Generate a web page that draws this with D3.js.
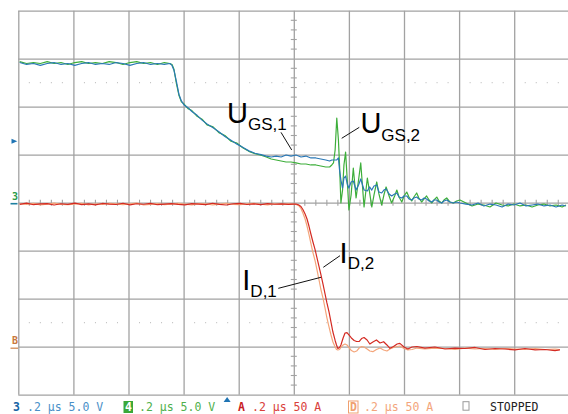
<!DOCTYPE html>
<html><head><meta charset="utf-8">
<script src="https://cdn.jsdelivr.net/npm/d3@7"></script>
<style>body{margin:0;background:#fff}svg{display:block}</style>
</head><body><svg id="c" width="568" height="414"></svg>
<script>
// ---- data (time in µs, voltages in V, currents in A) ----
const tVolt = [
-0.995,-0.97,-0.945,-0.92,-0.895,-0.87,-0.845,-0.82,-0.795,-0.77,-0.745,-0.72,-0.695,-0.67,-0.645,-0.62,-0.595,-0.57,-0.545,-0.52,-0.495,-0.47,-0.45,
-0.442,-0.435,-0.426,-0.417,-0.408,-0.399,-0.384,-0.370,-0.351,-0.333,-0.315,-0.293,-0.272,-0.250,-0.228,-0.206,-0.184,-0.163,-0.141,-0.119,
-0.10,-0.082,-0.064,-0.046,-0.028,-0.01,0.008,0.026,0.044,0.062,0.080,0.098,0.116,0.130,0.138,
0.144,0.150,0.156,0.162,0.166,0.171,0.177,0.182,0.188,0.194,0.200,0.208,0.216,0.226,0.235,0.243,0.255,0.267,0.275,0.283,
0.291,0.301,0.309,0.319,0.327,0.335,0.346,0.355,0.366,0.374,0.382,0.392,0.400,0.410,0.418,0.428,0.436,0.446,0.454,0.464,
0.473,0.482,0.491,0.501,0.509,0.519,0.527,0.537,0.545,0.555,0.567,0.579,0.591,0.603,
0.625,0.647,0.669,0.690,0.712,0.734,0.756,0.778,0.799,0.821,0.843,0.865,0.886,0.908,0.930,0.952,0.974,0.988];
const uGS1 = [ // blue
14.6,14.4,14.5,14.3,14.5,14.6,14.4,14.5,14.3,14.5,14.6,14.4,14.5,14.4,14.6,14.5,14.3,14.5,14.6,14.4,14.5,14.4,14.5,
14.3,13.8,12.6,11.3,10.6,10.2,9.9,9.5,9.1,8.6,8.2,7.8,7.4,6.9,6.5,6.1,5.75,5.4,5.15,5.0,
4.86,4.76,4.86,4.76,4.97,4.86,4.97,4.76,4.86,4.66,4.66,4.55,4.45,4.34,4.45,
4.45,4.45,4.45,4.66,3.41,2.36,1.53,2.57,2.78,1.95,1.53,2.16,2.26,1.32,1.84,2.47,1.32,1.22,1.64,1.32,
1.74,1.84,1.11,1.01,1.32,1.43,0.91,0.70,0.91,1.01,0.59,0.49,0.70,0.70,0.39,0.28,0.49,0.59,0.39,0.28,
0.49,0.39,0.18,0.07,0.28,0.28,0.07,-0.03,0.18,0.28,0.07,-0.03,0.07,-0.03,
-0.14,-0.24,-0.03,-0.34,-0.14,-0.24,-0.45,-0.14,-0.24,-0.03,-0.34,-0.24,-0.14,-0.34,-0.24,-0.45,-0.24,-0.34];
const uGS2 = [ // green
14.7,14.5,14.6,14.5,14.7,14.5,14.6,14.4,14.6,14.7,14.5,14.6,14.5,14.7,14.6,14.4,14.6,14.7,14.5,14.6,14.4,14.6,14.5,
14.4,13.9,12.4,11.2,10.5,10.3,9.8,9.6,9.0,8.7,8.1,7.9,7.3,7.0,6.4,6.2,5.7,5.35,5.1,4.95,
4.76,4.55,4.45,4.34,4.24,4.24,4.14,4.03,4.03,3.93,3.93,3.82,3.72,3.72,3.93,
4.14,5.49,8.82,6.53,3.93,-0.03,1.32,3.93,5.28,2.36,-0.76,0.80,3.61,0.49,2.36,4.14,-0.45,2.57,1.11,-0.45,
0.80,2.16,0.91,-0.24,0.80,1.64,0.70,-0.03,0.70,1.32,0.59,0.07,0.70,1.11,0.59,0.18,0.59,1.01,0.49,0.07,
0.39,0.70,0.28,-0.03,0.28,0.59,0.18,-0.03,0.28,0.49,0.07,-0.03,0.18,0.28,
-0.03,-0.34,-0.14,-0.24,-0.45,-0.03,-0.24,-0.34,-0.14,-0.34,-0.24,-0.45,-0.24,-0.14,-0.34,-0.24,-0.45,-0.24];

const tCurr = [
-0.995,-0.97,-0.945,-0.92,-0.895,-0.87,-0.845,-0.82,-0.795,-0.77,-0.745,-0.72,-0.695,-0.67,-0.645,-0.62,-0.595,-0.57,-0.545,-0.52,
-0.495,-0.47,-0.445,-0.42,-0.395,-0.37,-0.345,-0.32,-0.295,-0.27,-0.245,-0.22,-0.195,-0.17,-0.145,-0.12,-0.095,-0.07,-0.045,-0.02,
-0.003,0.008,0.017,0.026,0.033,0.041,0.048,0.055,0.062,0.069,0.077,0.084,0.091,0.098,0.106,0.113,0.120,0.128,0.135,0.142,
0.150,0.155,0.160,0.166,0.171,0.179,0.186,0.193,0.200,0.209,0.219,0.228,0.237,0.246,0.255,0.266,0.276,0.287,0.300,0.313,
0.326,0.338,0.349,0.362,0.375,0.385,0.400,0.414,0.429,0.447,0.476,0.512,0.549,0.585,0.621,0.658,0.694,0.730,0.767,0.803,
0.839,0.876,0.912,0.948,0.966];
const iRed = [
148.2,149.5,147.9,148.8,149.1,147.6,148.9,148.3,149.6,148.0,148.7,147.8,149.2,148.5,148.1,149.4,147.7,148.9,148.4,149.3,
147.9,148.6,149.0,148.2,147.8,149.1,148.5,148.0,149.4,148.3,147.6,148.9,149.2,148.1,148.7,147.9,149.0,148.4,148.8,148.2,
148.6,148.6,147.8,146.0,142.9,138.2,133.0,125.7,117.4,109.6,101.3,92.9,84.1,75.7,65.3,55.6,45.8,36.1,25.7,15.3,
6.5,1.8,-1.9,-0.8,1.8,9.1,14.3,14.6,12.2,9.1,6.5,5.4,5.4,8.5,9.6,7.0,2.8,4.9,7.0,3.9,
5.2,1.8,-1.7,0.2,2.8,3.5,-0.3,-2.4,-0.3,0.2,-1.4,-0.3,-2.4,-1.4,-1.9,-0.8,-2.9,-1.9,-2.4,-3.4,
-1.9,-3.4,-2.9,-4.0,-3.4];
const iOrange = [
148.9,148.1,149.3,147.7,148.4,149.6,148.2,147.9,148.6,149.4,147.8,148.9,148.1,149.2,148.7,147.9,148.8,149.5,147.6,148.3,
149.1,148.0,148.5,149.3,148.6,147.8,149.0,148.9,147.7,148.5,149.4,148.1,147.9,148.8,149.2,148.4,147.8,148.9,148.3,148.7,
148.6,148.1,147.1,144.0,139.3,133.0,125.7,116.9,107.6,98.6,89.8,80.4,70.5,60.1,50.7,40.8,30.4,20.5,12.2,4.9,
-0.3,-2.9,-3.4,-2.9,-0.8,1.8,2.8,1.8,-0.8,-4.0,-5.5,-4.5,-1.4,0.2,-0.3,-2.4,-4.5,-5.2,-2.9,-1.4,
-3.4,-4.5,-2.4,-0.8,0.2,0.7,-1.9,-3.4,-2.9,-1.4,-2.4,-1.4,-1.9,-2.9,-1.4,-2.4,-1.9,-2.9,-1.9,-2.4,
-2.9,-1.9,-2.9,-2.4,-2.9];

const timeDomain = [-1, 1];          // 10 div × 0.2 µs
const voltDomain = [-20, 20];        // 8 div × 5 V
const currDomain = [-50, 350];       // 8 div × 50 A
const timeGrid = [-1,-0.8,-0.6,-0.4,-0.2,0,0.2,0.4,0.6,0.8,1];
const voltGrid = [-20,-15,-10,-5,0,5,10,15,20];
const footerKeys = ["3","4","A","D"];
const footerTexts = [".2 µs 5.0 V", ".2 µs 5.0 V", ".2 µs 50 A", ".2 µs 50 A"];
const statusText = "STOPPED";
const triggerLevel = 6.4;     // V
const triggerTime = -0.242;   // µs

// ---- scales ----
const svg = d3.select("#c");
const x = d3.scaleLinear().domain(timeDomain).range([18.3, 569.3]);
const yV = d3.scaleLinear().domain(voltDomain).range([394.7, 10.7]);
const yI = d3.scaleLinear().domain(currDomain).range([394.7, 10.7]);
const plotH = yV(voltDomain[0]) - yV(voltDomain[1]);
const plotW = x(timeDomain[1]) - x(timeDomain[0]);
const gridColor = "#a2a2a2";

// ---- grid via axes ----
const gx = svg.append("g").attr("transform", `translate(0,${yV(voltDomain[0])})`)
  .call(d3.axisBottom(x).tickValues(timeGrid).tickSize(-plotH).tickFormat(""));
const gy = svg.append("g").attr("transform", `translate(${x(timeDomain[0])},0)`)
  .call(d3.axisLeft(yV).tickValues(voltGrid).tickSize(-plotW).tickFormat(""));
[gx, gy].forEach(g => {
  g.select(".domain").remove();
  g.selectAll("line").attr("stroke", gridColor).attr("stroke-width", 1.3);
});

// minor ticks on centre axes
const minorT = d3.range(-25, 26).filter(k => k % 5 !== 0).map(k => k * 0.04);
const minorV = d3.range(-20, 21).filter(k => k % 5 !== 0);
svg.append("g").selectAll("line").data(minorV).join("line")
  .attr("x1", x(0) - 3).attr("x2", x(0) + 3)
  .attr("y1", d => yV(d)).attr("y2", d => yV(d))
  .attr("stroke", gridColor).attr("stroke-width", 1.1);
svg.append("g").selectAll("line").data(minorT).join("line")
  .attr("x1", d => x(d)).attr("x2", d => x(d))
  .attr("y1", yV(0) - 3).attr("y2", yV(0) + 3)
  .attr("stroke", gridColor).attr("stroke-width", 1.1);

// dotted rows
[12.5, -12.5].forEach(v => {
  svg.append("g").selectAll("rect").data(minorT).join("rect")
    .attr("x", d => x(d) - 0.5).attr("y", yV(v) - 0.5)
    .attr("width", 1).attr("height", 1).attr("fill", "#b4b4b4");
});

// ---- traces ----
const clip = svg.append("clipPath").attr("id", "pc").append("rect")
  .attr("x", x(timeDomain[0])).attr("y", yV(voltDomain[1]))
  .attr("width", plotW).attr("height", plotH);
const lineV = d3.line().x(d => x(d[0])).y(d => yV(d[1]));
const lineI = d3.line().x(d => x(d[0])).y(d => yI(d[1]));
const traces = svg.append("g").attr("clip-path", "url(#pc)").attr("fill", "none")
  .attr("stroke-width", 1.2).attr("stroke-linejoin", "round");
traces.append("path").attr("d", lineI(d3.zip(tCurr, iOrange))).attr("stroke", "#f4a57a");
traces.append("path").attr("d", lineI(d3.zip(tCurr, iRed))).attr("stroke", "#d42a22");
traces.append("path").attr("d", lineV(d3.zip(tVolt, uGS2))).attr("stroke", "#3dae3a");
traces.append("path").attr("d", lineV(d3.zip(tVolt, uGS1))).attr("stroke", "#2a78b6");

// ---- annotations ----
const labelFont = "'Liberation Sans', Arial, sans-serif";
const annV = [
  {main:"U", sub:"GS,1", t:-0.2425, v:8.27, dy:7,   lead:[[-0.0465,7.33],[-0.0076,5.49]]},
  {main:"U", sub:"GS,2", t:0.2417,  v:7.23, dy:7.4, lead:[[0.2377,7.85],[0.1739,6.71]]}
];
const annI = [
  {main:"I", sub:"D,1", t:-0.1869, v:59.1, dy:6.7, lead:[[-0.0563,60.8],[0.0987,72.3]]},
  {main:"I", sub:"D,2", t:0.1662,  v:86.9, dy:6,   lead:[[0.1677,94.8],[0.1071,82.7]]}
];
function drawAnn(list, ys) {
  list.forEach(a => {
    const tx = svg.append("text").attr("x", x(a.t)).attr("y", ys(a.v))
      .attr("font-family", labelFont).attr("fill", "#000");
    tx.append("tspan").attr("font-size", 29).text(a.main);
    tx.append("tspan").attr("font-size", 17).attr("dy", a.dy).text(a.sub);
    svg.append("line")
      .attr("x1", x(a.lead[0][0])).attr("y1", ys(a.lead[0][1]))
      .attr("x2", x(a.lead[1][0])).attr("y2", ys(a.lead[1][1]))
      .attr("stroke", "#111").attr("stroke-width", 1);
  });
}
drawAnn(annV, yV);
drawAnn(annI, yI);

// ---- left markers ----
const ty = yV(triggerLevel);
svg.append("path").attr("d", `M11.5,${ty-2.5}L17.3,${ty}L11.5,${ty+2.5}Z`).attr("fill", "#1f74b4");
svg.append("text").attr("x", 12).attr("y", yV(0) - 2.5).attr("font-family", "DejaVu Sans Mono, monospace")
  .attr("font-size", 10).attr("font-weight", "bold").attr("fill", "#2a9a48").text("3");
svg.append("line").attr("x1", 10.5).attr("x2", 17.5).attr("y1", yV(0) + 1).attr("y2", yV(0) + 1)
  .attr("stroke", "#1d7fa0").attr("stroke-width", 1.6);
svg.append("text").attr("x", 12).attr("y", yI(0) - 2.5).attr("font-family", "DejaVu Sans Mono, monospace")
  .attr("font-size", 10).attr("font-weight", "bold").attr("fill", "#c9783e").text("B");
svg.append("line").attr("x1", 10.5).attr("x2", 18).attr("y1", yI(0) + 1.5).attr("y2", yI(0) + 1.5)
  .attr("stroke", "#d08a55").attr("stroke-width", 1.3);

// trigger position marker
const tpx = x(triggerTime);
svg.append("path").attr("d", `M${tpx-3.5},402L${tpx},397L${tpx+3.5},402Z`).attr("fill", "#1f74b4");

// ---- footer ----
const mono = "'DejaVu Sans Mono', monospace";
const fy = 411;
const keyX = [13, 125, 238, 350];
const keyColor = ["#1a66a6", "#ffffff", "#c8201e", "#f0a070"];
const textColor = ["#4a90c8", "#4fb04c", "#d9403a", "#f3a57c"];
footerKeys.forEach((k, i) => {
  if (i === 1) svg.append("rect").attr("x", keyX[i] - 1.5).attr("y", fy - 10).attr("width", 9.5).attr("height", 12).attr("fill", "#3aa838");
  if (i === 3) svg.append("rect").attr("x", keyX[i] - 1.5).attr("y", fy - 10).attr("width", 9.5).attr("height", 12)
    .attr("fill", "none").attr("stroke", "#f0a070").attr("stroke-width", 1);
  svg.append("text").attr("x", keyX[i]).attr("y", fy).attr("font-family", mono).attr("font-size", 11.5)
    .attr("font-weight", "bold").attr("fill", keyColor[i]).text(k);
  svg.append("text").attr("x", keyX[i] + 14).attr("y", fy).attr("font-family", mono).attr("font-size", 11.5)
    .attr("fill", textColor[i]).text(footerTexts[i]);
});
svg.append("rect").attr("x", 463).attr("y", 401.7).attr("width", 6).attr("height", 8.5)
  .attr("fill", "none").attr("stroke", "#9a9a9a").attr("stroke-width", 1);
svg.append("text").attr("x", 490).attr("y", fy).attr("font-family", mono).attr("font-size", 11.5)
  .attr("fill", "#222").text(statusText);
</script></body></html>
